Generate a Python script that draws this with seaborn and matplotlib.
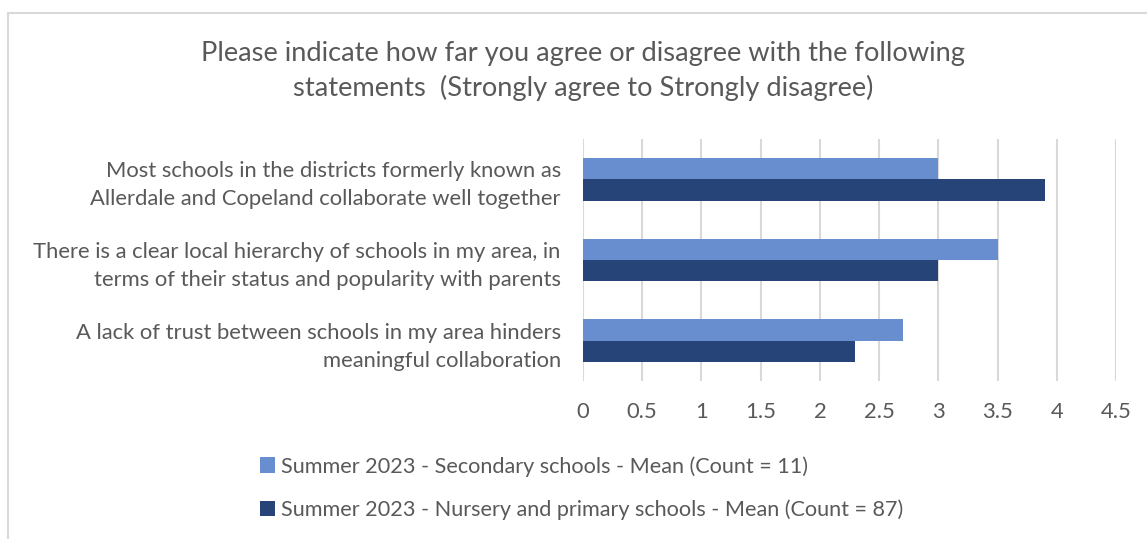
import matplotlib
matplotlib.use("Agg")
import matplotlib.pyplot as plt
import seaborn as sns
import pandas as pd
from matplotlib.patches import Rectangle, Patch

categories = [
    "Most schools in the districts formerly known as\nAllerdale and Copeland collaborate well together",
    "There is a clear local hierarchy of schools in my area, in\nterms of their status and popularity with parents",
    "A lack of trust between schools in my area hinders\nmeaningful collaboration",
]
series_names = [
    "Summer 2023 - Secondary schools - Mean (Count = 11)",
    "Summer 2023 - Nursery and primary schools - Mean (Count = 87)",
]
secondary = [3.0, 3.5, 2.7]
primary = [3.9, 3.0, 2.3]
xticks = [0, 0.5, 1, 1.5, 2, 2.5, 3, 3.5, 4, 4.5]
xticklabels = ["0", "0.5", "1", "1.5", "2", "2.5", "3", "3.5", "4", "4.5"]
title = ("Please indicate how far you agree or disagree with the following\n"
         "statements  (Strongly agree to Strongly disagree)")

colors = ["#698ED0", "#264478"]
text_color = "#595959"

sns.set_theme(style="white")
plt.rcParams["font.family"] = ["Lato", "DejaVu Sans"]

df = pd.DataFrame({
    "Statement": categories * 2,
    "Series": [series_names[0]] * 3 + [series_names[1]] * 3,
    "Mean": secondary + primary,
})

fig = plt.figure(figsize=(11.47, 5.39), dpi=100)
ax = fig.add_axes([583 / 1147, 1 - 381 / 539, (1116 - 583) / 1147, (381 - 139) / 539])

sns.barplot(data=df, y="Statement", x="Mean", hue="Series", order=categories,
            hue_order=series_names, palette=colors, orient="h", width=0.53,
            gap=0, ax=ax, legend=False, saturation=1, linewidth=0)

ax.set_xlim(0, 4.5)
ax.set_xticks(xticks)
ax.set_xticklabels(xticklabels)
ax.set_xlabel("")
ax.set_ylabel("")
ax.grid(axis="x", color="#D9D9D9", linewidth=1.5)
ax.set_axisbelow(True)
for s in ax.spines.values():
    s.set_visible(False)
ax.tick_params(axis="both", length=0, colors=text_color, labelsize=15.8)
ax.tick_params(axis="x", pad=15)
ax.tick_params(axis="y", pad=16)
for lab in ax.get_yticklabels():
    lab.set_horizontalalignment("right")
    lab.set_multialignment("right")
    lab.set_linespacing(1.5)

fig.text(583 / 1147, 1 - 71 / 539, title, ha="center", va="center",
         fontsize=19.6, color=text_color, linespacing=1.4)

handles = [Patch(facecolor=c, edgecolor="none") for c in colors]
fig.legend(handles, series_names, loc="center left",
           bbox_to_anchor=(240 / 1147, 1 - 488 / 539), ncol=1, frameon=False,
           fontsize=15.6, labelcolor=text_color, handlelength=0.7, handleheight=0.7,
           handletextpad=0.3, labelspacing=1.05)

fig.patches.append(Rectangle((8 / 1147, -0.1), 1.2, 1 - 13 / 539 + 0.1,
                             transform=fig.transFigure, fill=False,
                             edgecolor="#D9D9D9", linewidth=1.5))

fig.savefig("out.png", dpi=100, facecolor="white")
